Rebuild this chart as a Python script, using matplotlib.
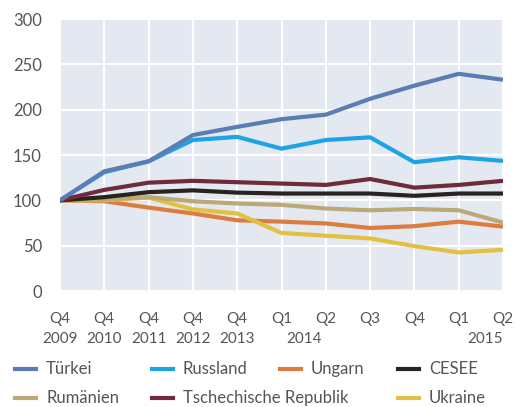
import matplotlib
matplotlib.use("Agg")
import matplotlib.pyplot as plt
from matplotlib.lines import Line2D

plt.rcParams['font.family'] = ['Lato', 'DejaVu Sans']

# quarters on the x axis
quarters = ['Q4', 'Q4', 'Q4', 'Q4', 'Q4', 'Q1', 'Q2', 'Q3', 'Q4', 'Q1', 'Q2']
years = ['2009', '2010', '2011', '2012', '2013', '2014', '2015']
year_x = [0, 1, 2, 3, 4, 5.5, 9.6]

tuerkei = [100, 132, 143, 172, 181, 189.5, 194.5, 212, 226.5, 239.5, 233]
russland = [100, 131, 143, 166.5, 170, 157, 166.5, 169.5, 142, 147.5, 143.5]
ungarn = [100, 99, 92, 85.5, 78, 76.5, 74.5, 69.5, 71.5, 76.5, 71]
cesee = [100, 103.5, 109, 111, 108.5, 107.5, 107.5, 107.5, 105, 107.5, 107.5]
rumaenien = [100, 101, 103.5, 99, 96.5, 95, 91, 89, 90.5, 89, 75.5]
tschechien = [100, 111.5, 119.5, 121.5, 120, 118.5, 117, 123.5, 114, 117, 121.5]
ukraine = [100, 100, 103, 90, 85.5, 64, 61, 58, 49.5, 42.5, 45.5]

names = ['Türkei', 'Russland', 'Ungarn', 'CESEE', 'Rumänien',
         'Tschechische Republik', 'Ukraine']
series = [tuerkei, russland, ungarn, cesee, rumaenien, tschechien, ukraine]
colors = ['#5b7db1', '#1fa3e4', '#dc7c3f', '#28231e', '#bba978',
          '#6f2a3c', '#e2c043']

txt = '#555555'

fig = plt.figure(figsize=(5.22, 4.07), dpi=100)
ax = fig.add_axes([60/522, 1-291/407, (503-60)/522, (291-19)/407])
ax.set_facecolor('#e4e9f1')

x = list(range(len(quarters)))
draw_order = [1, 2, 6, 4, 3, 5, 0]
for i in draw_order:
    ax.plot(x, series[i], color=colors[i], lw=3.0, solid_capstyle='butt',
            solid_joinstyle='round', zorder=3)

ax.set_xlim(0, 10)
ax.set_ylim(0, 300)
ax.set_yticks(range(0, 301, 50))
ax.set_xticks(x)
ax.set_xticklabels(quarters, fontsize=11, color=txt)
for yx, yr in zip(year_x, years):
    ax.text(yx, -0.176, yr, transform=ax.get_xaxis_transform(), fontsize=11,
            color=txt, ha='center', va='center')
ax.tick_params(axis='x', which='both', length=0, pad=15)
ax.tick_params(axis='y', length=0, pad=13, labelsize=12, labelcolor=txt)
ax.grid(True, which='major', color='white', lw=1.5, zorder=1)
for s in ax.spines.values():
    s.set_visible(False)

# legend, placed by hand in two rows
leg_pos = [(15, 369), (152, 369), (280, 369), (398, 369),
           (15, 398), (152, 398), (398, 398)]
for (px, py), name, c in zip(leg_pos, names, colors):
    fy = 1 - py/407
    fig.add_artist(Line2D([px/522, (px+21)/522], [fy, fy], color=c, lw=3.0,
                          transform=fig.transFigure))
    fig.text((px+31)/522, fy, name, fontsize=12, color=txt, va='center',
             ha='left')

fig.savefig('out.png', dpi=100)
